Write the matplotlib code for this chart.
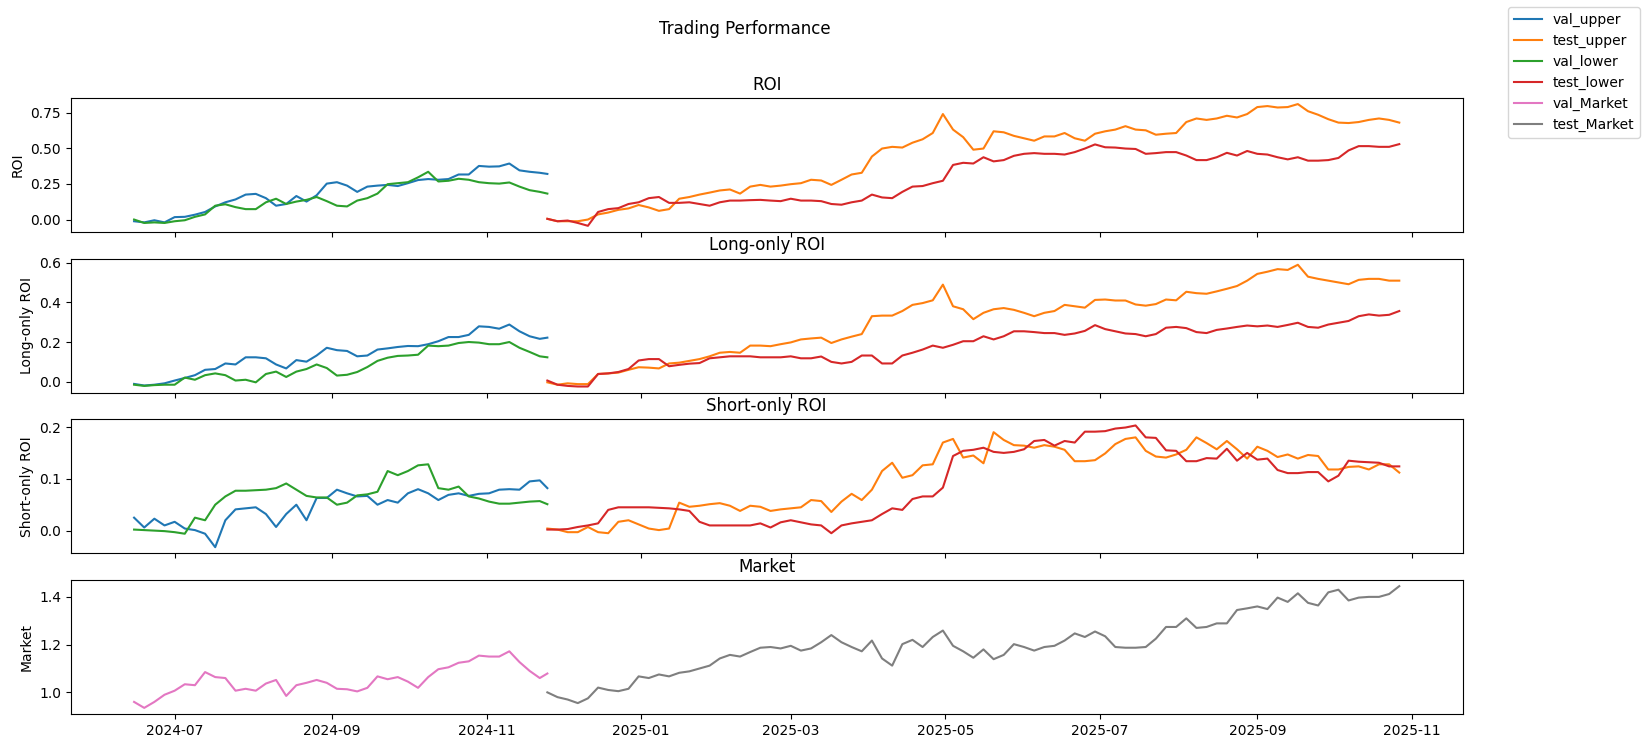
#!/usr/bin/env python3
"""Trading performance: ROI, long-only, short-only and market curves for the val and test windows."""

import matplotlib

matplotlib.use("Agg")
import matplotlib.dates as mdates
import matplotlib.pyplot as plt
import pandas as pd

# sample grid (days after the window start)
VAL_START = "2024-06-15"
TEST_START = "2024-11-25"
VAL_DAYS = list(range(0, 161, 4)) + [163]
TEST_DAYS = list(range(0, 337, 4))

roi_val_upper = [-0.012, -0.02, -0.005, -0.02, 0.017, 0.019, 0.034, 0.053, 0.092, 0.121, 0.141, 0.175, 0.18, 0.15,
                 0.097, 0.109, 0.165, 0.126, 0.17, 0.252, 0.262, 0.238, 0.194, 0.231, 0.238, 0.243, 0.235, 0.255,
                 0.277, 0.284, 0.279, 0.284, 0.316, 0.316, 0.376, 0.371, 0.373, 0.393, 0.345, 0.335, 0.328, 0.32]
roi_val_lower = [0.0, -0.024, -0.02, -0.024, -0.012, -0.005, 0.019, 0.036, 0.097, 0.107, 0.087, 0.073, 0.073, 0.121,
                 0.146, 0.109, 0.126, 0.138, 0.158, 0.129, 0.097, 0.092, 0.133, 0.15, 0.182, 0.248, 0.255, 0.262,
                 0.296, 0.335, 0.267, 0.272, 0.286, 0.279, 0.262, 0.255, 0.252, 0.26, 0.231, 0.206, 0.194, 0.182]
roi_test_upper = [0.005, -0.012, -0.012, -0.012, 0.0, 0.036, 0.049, 0.068, 0.078, 0.102, 0.085, 0.061, 0.073, 0.146,
                  0.158, 0.175, 0.189, 0.204, 0.211, 0.182, 0.231, 0.243, 0.231, 0.238, 0.248, 0.255, 0.279, 0.274,
                  0.243, 0.279, 0.316, 0.328, 0.442, 0.498, 0.51, 0.505, 0.539, 0.563, 0.607, 0.74, 0.631, 0.578,
                  0.49, 0.498, 0.619,
                  0.612, 0.587, 0.570, 0.553, 0.583, 0.583, 0.607, 0.570, 0.553, 0.602, 0.619, 0.631, 0.655, 0.631,
                  0.626, 0.595, 0.602, 0.607, 0.684, 0.709, 0.699, 0.709, 0.728, 0.716, 0.74, 0.789, 0.796, 0.786,
                  0.789, 0.81, 0.76, 0.735, 0.704, 0.68, 0.677, 0.684, 0.699, 0.709, 0.699, 0.68]
roi_test_lower = [0.005, -0.012, -0.007, -0.024, -0.044, 0.053, 0.073, 0.08, 0.109, 0.121, 0.15, 0.158, 0.117, 0.117,
                  0.121, 0.109, 0.097, 0.121, 0.133, 0.133, 0.136, 0.138, 0.133, 0.129, 0.146, 0.133, 0.133, 0.129,
                  0.109, 0.104, 0.121, 0.133, 0.175, 0.155, 0.15, 0.194, 0.231, 0.235, 0.255, 0.272, 0.383, 0.398,
                  0.393, 0.437, 0.408,
                  0.417, 0.447, 0.461, 0.466, 0.461, 0.461, 0.456, 0.473, 0.498, 0.527, 0.507, 0.505, 0.498, 0.495,
                  0.461, 0.466, 0.473, 0.473, 0.449, 0.417, 0.417, 0.437, 0.468, 0.449, 0.481, 0.461, 0.456, 0.437,
                  0.422, 0.437, 0.413, 0.413, 0.417, 0.432, 0.485, 0.515, 0.515, 0.51, 0.51, 0.529]

long_val_upper = [-0.01, -0.018, -0.014, -0.007, 0.007, 0.02, 0.034, 0.061, 0.065, 0.093, 0.088, 0.124, 0.124, 0.119,
                  0.088, 0.068, 0.11, 0.102, 0.133, 0.172, 0.16, 0.156, 0.129, 0.133, 0.163, 0.169, 0.176, 0.181,
                  0.18, 0.19, 0.205, 0.226, 0.226, 0.237, 0.28, 0.277, 0.268, 0.289, 0.255, 0.23, 0.217, 0.223]
long_val_lower = [-0.014, -0.02, -0.016, -0.014, -0.014, 0.022, 0.011, 0.034, 0.043, 0.034, 0.007, 0.011, -0.002,
                  0.04, 0.052, 0.025, 0.052, 0.065, 0.088, 0.07, 0.032, 0.036, 0.05, 0.075, 0.106, 0.122, 0.131,
                  0.133, 0.137, 0.183, 0.18, 0.183, 0.196, 0.201, 0.198, 0.19, 0.19, 0.201, 0.172, 0.151, 0.129, 0.124]
long_test_upper = [-0.002, -0.014, -0.007, -0.011, -0.011, 0.04, 0.043, 0.047, 0.061, 0.074, 0.072, 0.068, 0.093,
                   0.097, 0.106, 0.115, 0.129, 0.147, 0.151, 0.147, 0.183, 0.183, 0.18, 0.19, 0.199, 0.214, 0.219,
                   0.223, 0.196, 0.214, 0.228, 0.241, 0.331, 0.334, 0.334, 0.357, 0.388, 0.397, 0.411, 0.49, 0.381,
                   0.366, 0.316, 0.348, 0.366,
                   0.372, 0.363, 0.348, 0.331, 0.348, 0.357, 0.388, 0.381, 0.374, 0.413, 0.415, 0.41, 0.41, 0.39,
                   0.384, 0.392, 0.415, 0.411, 0.454, 0.447, 0.444, 0.456, 0.469, 0.483, 0.51, 0.544, 0.555, 0.568,
                   0.564, 0.59, 0.53, 0.519, 0.51, 0.501, 0.492, 0.514, 0.519, 0.519, 0.51, 0.51]
long_test_lower = [0.007, -0.014, -0.02, -0.023, -0.023, 0.04, 0.043, 0.05, 0.065, 0.108, 0.115, 0.115, 0.079, 0.086,
                   0.092, 0.095, 0.119, 0.124, 0.129, 0.129, 0.129, 0.124, 0.124, 0.124, 0.129, 0.119, 0.119, 0.128,
                   0.101, 0.093, 0.101, 0.133, 0.133, 0.093, 0.093, 0.133, 0.147, 0.163, 0.183, 0.172, 0.187, 0.205,
                   0.205, 0.23, 0.214,
                   0.23, 0.255, 0.255, 0.251, 0.246, 0.246, 0.237, 0.244, 0.257, 0.286, 0.266, 0.255, 0.244, 0.241,
                   0.23, 0.241, 0.273, 0.277, 0.271, 0.251, 0.246, 0.262, 0.269, 0.277, 0.284, 0.28, 0.284, 0.277,
                   0.287, 0.298, 0.277, 0.273, 0.289, 0.298, 0.307, 0.331, 0.34, 0.334, 0.338, 0.357]

short_val_upper = [0.025, 0.006, 0.023, 0.01, 0.017, 0.004, 0.001, -0.006, -0.032, 0.02, 0.041, 0.043, 0.045, 0.032,
                   0.007, 0.032, 0.05, 0.02, 0.063, 0.063, 0.079, 0.072, 0.066, 0.067, 0.05, 0.059, 0.054, 0.072,
                   0.08, 0.072, 0.059, 0.069, 0.072, 0.067, 0.071, 0.072, 0.079, 0.08, 0.079, 0.095, 0.097, 0.082]
short_val_lower = [0.002, 0.001, 0.0, -0.001, -0.003, -0.006, 0.025, 0.02, 0.05, 0.066, 0.077, 0.077, 0.078, 0.079,
                   0.082, 0.091, 0.079, 0.067, 0.064, 0.064, 0.05, 0.054, 0.068, 0.07, 0.075, 0.115, 0.107, 0.115,
                   0.126, 0.128, 0.082, 0.079, 0.085, 0.066, 0.062, 0.056, 0.052, 0.052, 0.054, 0.056, 0.057, 0.051]
short_test_upper = [0.004, 0.002, -0.003, -0.003, 0.007, -0.003, -0.005, 0.017, 0.02, 0.012, 0.004, 0.001, 0.004,
                    0.054, 0.046, 0.048, 0.051, 0.053, 0.048, 0.038, 0.048, 0.046, 0.038, 0.041, 0.043, 0.045, 0.059,
                    0.057, 0.036, 0.056, 0.071, 0.059, 0.079, 0.115, 0.131, 0.102, 0.107, 0.126, 0.128, 0.17, 0.177,
                    0.141, 0.145, 0.13, 0.19,
                    0.175, 0.165, 0.164, 0.16, 0.165, 0.162, 0.156, 0.134, 0.134, 0.136, 0.149, 0.167, 0.177, 0.18,
                    0.154, 0.143, 0.141, 0.147, 0.156, 0.18, 0.169, 0.157, 0.173, 0.157, 0.139, 0.162, 0.154, 0.142,
                    0.147, 0.139, 0.146, 0.144, 0.118, 0.118, 0.123, 0.124, 0.118, 0.128, 0.128, 0.112]
short_test_lower = [0.002, 0.002, 0.003, 0.007, 0.01, 0.014, 0.04, 0.045, 0.045, 0.045, 0.045, 0.044, 0.043, 0.041,
                    0.038, 0.017, 0.01, 0.01, 0.01, 0.01, 0.01, 0.014, 0.006, 0.016, 0.02, 0.016, 0.012, 0.01, -0.005,
                    0.01, 0.014, 0.017, 0.02, 0.032, 0.043, 0.04, 0.061, 0.066, 0.066, 0.083, 0.144, 0.154, 0.156,
                    0.16, 0.152,
                    0.15, 0.152, 0.157, 0.173, 0.175, 0.164, 0.173, 0.17, 0.191, 0.191, 0.192, 0.197, 0.199, 0.203,
                    0.18, 0.179, 0.155, 0.154, 0.134, 0.134, 0.14, 0.139, 0.158, 0.135, 0.15, 0.137, 0.139, 0.117,
                    0.111, 0.111, 0.113, 0.113, 0.095, 0.106, 0.135, 0.133, 0.132, 0.131, 0.124, 0.124]

market_val = [0.96, 0.935, 0.96, 0.99, 1.007, 1.034, 1.03, 1.085, 1.064, 1.06, 1.007, 1.015, 1.007, 1.037, 1.052,
              0.985, 1.03, 1.04, 1.052, 1.04, 1.015, 1.013, 1.004, 1.019, 1.067, 1.055, 1.064, 1.045, 1.019, 1.064,
              1.097, 1.105, 1.124, 1.13, 1.154, 1.15, 1.15, 1.172, 1.127, 1.09, 1.06, 1.079]
market_test = [1.0, 0.98, 0.97, 0.955, 0.975, 1.02, 1.01, 1.005, 1.015, 1.067, 1.06, 1.075, 1.067, 1.082, 1.088, 1.1,
               1.112, 1.142, 1.157, 1.15, 1.169, 1.187, 1.19, 1.184, 1.195, 1.175, 1.184, 1.21, 1.24, 1.21, 1.19,
               1.172, 1.217, 1.142, 1.112, 1.202, 1.22, 1.19, 1.232, 1.259, 1.195, 1.172, 1.145, 1.18, 1.139,
               1.157, 1.202, 1.19, 1.175, 1.19, 1.195, 1.217, 1.247, 1.232, 1.255, 1.235, 1.19, 1.187, 1.187, 1.19,
               1.225, 1.274, 1.274, 1.31, 1.27, 1.274, 1.289, 1.289, 1.345, 1.352, 1.36, 1.349, 1.397, 1.379, 1.415,
               1.375, 1.364, 1.419, 1.43, 1.385, 1.397, 1.4, 1.4, 1.412, 1.445]


def main():
    val_idx = pd.Timestamp(VAL_START) + pd.to_timedelta(VAL_DAYS, unit="D")
    test_idx = pd.Timestamp(TEST_START) + pd.to_timedelta(TEST_DAYS, unit="D")

    fig, axes = plt.subplots(4, 1, figsize=(16.47, 7.48), dpi=100, sharex=True)
    fig.subplots_adjust(left=0.043, right=0.888, top=0.869, bottom=0.0455, hspace=0.2)
    # titel staat boven het oorspronkelijke (smallere) figuurvlak, niet boven het hele beeld
    fig.suptitle("Trading Performance", x=0.452, y=0.973)

    # --- drie ROI-panelen met upper/lower strategie ---
    panels = [
        ("ROI", roi_val_upper, roi_test_upper, roi_val_lower, roi_test_lower),
        ("Long-only ROI", long_val_upper, long_test_upper, long_val_lower, long_test_lower),
        ("Short-only ROI", short_val_upper, short_test_upper, short_val_lower, short_test_lower),
    ]
    for ax, (name, vu, tu, vl, tl) in zip(axes[:3], panels):
        ax.plot(val_idx, vu, color="tab:blue", label="val_upper")
        ax.plot(test_idx, tu, color="tab:orange", label="test_upper")
        ax.plot(val_idx, vl, color="tab:green", label="val_lower")
        ax.plot(test_idx, tl, color="tab:red", label="test_lower")
        ax.set_title(name)
        ax.set_ylabel(name)

    # --- markt ---
    ax = axes[3]
    ax.plot(val_idx, market_val, color="tab:pink", label="val_Market")
    ax.plot(test_idx, market_test, color="tab:gray", label="test_Market")
    ax.set_title("Market")
    ax.set_ylabel("Market")

    ax.xaxis.set_major_locator(mdates.MonthLocator(bymonth=[1, 3, 5, 7, 9, 11]))
    ax.xaxis.set_major_formatter(mdates.DateFormatter("%Y-%m"))

    handles, labels = axes[0].get_legend_handles_labels()
    h2, l2 = axes[3].get_legend_handles_labels()
    fig.legend(handles + h2, labels + l2, loc="upper right")

    fig.savefig("out.png", dpi=100)


if __name__ == "__main__":
    main()
